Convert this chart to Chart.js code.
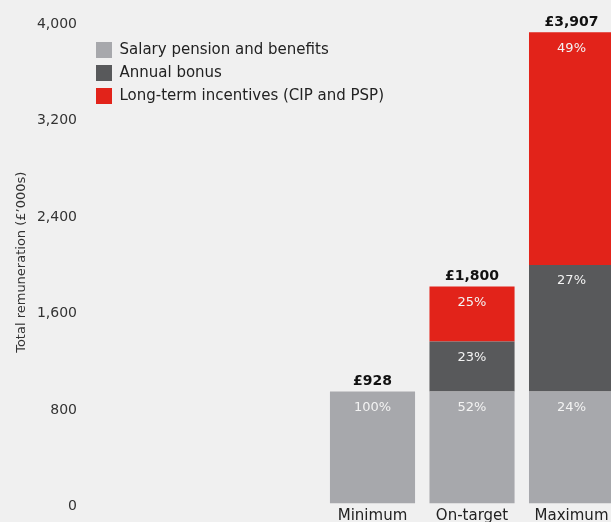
<!DOCTYPE html>
<html lang="en">
<head>
<meta charset="UTF-8" />
<title>Total remuneration scenarios</title>
<script src="https://cdn.jsdelivr.net/npm/chart.js"></script>
<style>
  html, body { margin: 0; padding: 0; background: #f0f0f0; overflow: hidden; }
  /* the original is cropped on the right and bottom, so the canvas runs past the window */
  #wrap { position: relative; width: 620px; height: 540px; }
</style>
</head>
<body>
<div id="wrap"><canvas id="payChart"></canvas></div>
<script>
  // ── values (£'000s) ────────────────────────────────────
  const scenarios     = ['Minimum', 'On-target', 'Maximum'];
  const salaryPension = [928, 928, 928];
  const annualBonus   = [null, 416, 1050];
  const longTermInc   = [null, 456, 1929];
  const yTicks        = [0, 800, 1600, 2400, 3200, 4000];

  const FONT = '"DejaVu Sans", sans-serif';
  Chart.defaults.font.family = FONT;
  Chart.defaults.font.size = 14;

  const toPoints = arr => arr.map((v, i) => ({ x: i, y: v }));

  // percentage inside each segment + total above each bar
  const barLabels = {
    id: 'barLabels',
    afterDatasetsDraw(chart) {
      const { ctx } = chart;
      const totals = scenarios.map((_, i) =>
        chart.data.datasets.reduce((s, ds) => s + (ds.data[i].y || 0), 0));
      ctx.save();
      ctx.textAlign = 'center';
      ctx.textBaseline = 'middle';
      ctx.font = '13px ' + FONT;
      ctx.fillStyle = '#f3f3f3';
      chart.data.datasets.forEach((ds, di) => {
        chart.getDatasetMeta(di).data.forEach((bar, i) => {
          const v = ds.data[i].y;
          if (!v) return;
          ctx.fillText(Math.round(v / totals[i] * 100) + '%', bar.x, bar.y + 16);
        });
      });
      ctx.font = 'bold 14px ' + FONT;
      ctx.fillStyle = '#111';
      totals.forEach((t, i) => {
        const x = chart.scales.x.getPixelForValue(i);
        const y = chart.scales.y.getPixelForValue(t);
        ctx.fillText('£' + t.toLocaleString('en-GB'), x, y - 10);
      });
      ctx.restore();
    }
  };

  // legend sits inside the plot, a little below the top-left corner
  const legendNudge = {
    id: 'legendNudge',
    afterLayout(chart) {
      const lg = chart.legend;
      lg.top += 35; lg.bottom += 35;
      lg.left += 4; lg.right += 4;
    }
  };

  new Chart(document.getElementById('payChart'), {
    type: 'bar',
    data: {
      datasets: [
        { label: 'Salary pension and benefits', data: toPoints(salaryPension), backgroundColor: '#a7a8ac' },
        { label: 'Annual bonus', data: toPoints(annualBonus), backgroundColor: '#58595b' },
        { label: 'Long-term incentives (CIP and PSP)', data: toPoints(longTermInc), backgroundColor: '#e2231a' }
      ]
    },
    options: {
      responsive: true,
      maintainAspectRatio: false,
      animation: false,
      layout: { padding: { top: 21, bottom: 10.5, left: 0, right: 0 } },
      datasets: { bar: { borderWidth: 0, barPercentage: 0.855, categoryPercentage: 1 } },
      scales: {
        x: {
          type: 'linear',
          stacked: true,
          offset: false,
          min: -2.889,
          max: 2.487,
          afterBuildTicks: s => { s.ticks = scenarios.map((_, i) => ({ value: i })); },
          ticks: { padding: 4, color: '#222', font: { size: 15 }, maxRotation: 0, autoSkip: false,
                   callback: v => scenarios[v] ?? '' },
          grid: { display: false, drawTicks: false },
          border: { display: false }
        },
        y: {
          stacked: true,
          min: 0,
          max: 4000,
          afterBuildTicks: s => { s.ticks = yTicks.map(v => ({ value: v })); },
          afterFit: s => { s.width = 85; },
          ticks: { padding: 8, color: '#333', labelOffset: 3, callback: v => v.toLocaleString('en-GB') },
          grid: { display: false, drawTicks: false },
          border: { display: false },
          title: { display: true, text: 'Total remuneration (£’000s)', color: '#333',
                   font: { size: 13 }, padding: { top: 14, bottom: 0 } }
        }
      },
      plugins: {
        legend: {
          position: 'chartArea',
          align: 'start',
          labels: { boxWidth: 16, boxHeight: 16, padding: 7, color: '#222', font: { size: 15 } }
        },
        tooltip: { enabled: false }
      }
    },
    plugins: [barLabels, legendNudge]
  });
</script>
</body>
</html>
